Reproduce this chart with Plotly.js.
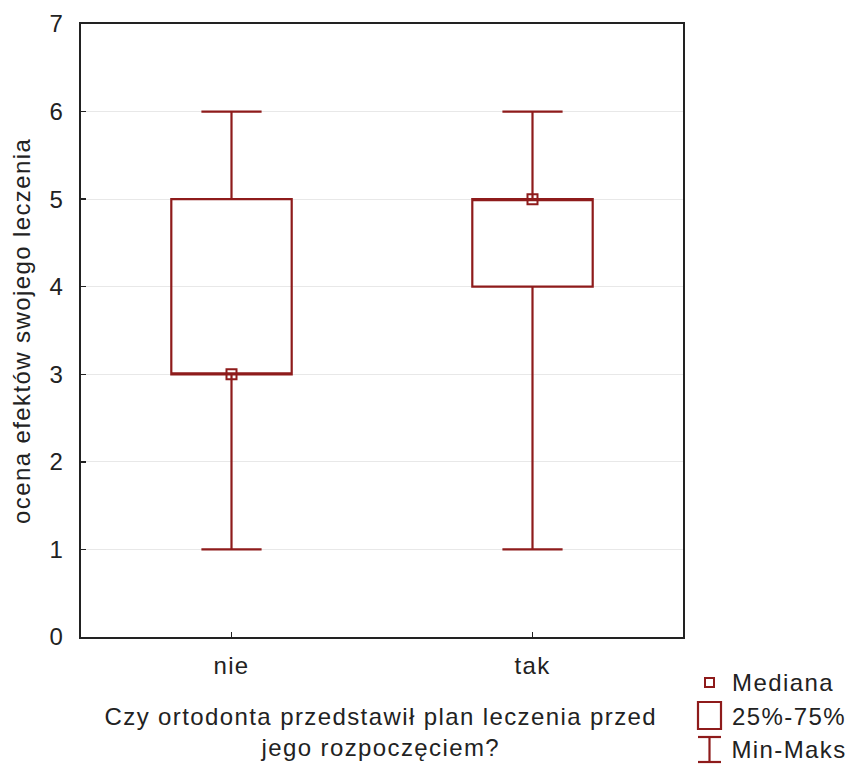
<!DOCTYPE html>
<html>
<head>
<meta charset="utf-8">
<script src="https://cdn.plot.ly/plotly-3.0.1.min.js"></script>
<style>
html,body{margin:0;padding:0;background:#fff;}
#chart text{letter-spacing:1.4px;}
</style>
</head>
<body>
<div id="chart" style="width:850px;height:765px;"></div>
<script>
// ---- data ----
const categories = ['nie', 'tak'];
const minVals = [1, 1];
const q1Vals = [3, 4];
const medianVals = [3, 5];
const q3Vals = [5, 5];
const maxVals = [6, 6];
const yTicks = [0, 1, 2, 3, 4, 5, 6, 7];
const xTitle = 'Czy ortodonta przedstawił plan leczenia przed<br>jego rozpoczęciem?';
const yTitle = 'ocena efektów swojego leczenia';
const legendLabels = ['Mediana', '25%-75%', 'Min-Maks'];

// ---- style ----
const RED = '#8e1b1b';
const FONT = 'Liberation Sans, Arial, sans-serif';
const FS = 24;
const W = 850, H = 765;
const M = {l: 81, r: 167, t: 24, b: 128};
const px = x => (x - M.l) / (W - M.l - M.r);
const py = y => (H - M.b - y) / (H - M.t - M.b);

const boxTrace = {
  type: 'box',
  x: categories,
  q1: q1Vals,
  median: medianVals,
  q3: q3Vals,
  lowerfence: minVals,
  upperfence: maxVals,
  boxpoints: false,
  width: 0.4,
  whiskerwidth: 0.5,
  fillcolor: 'rgba(255,255,255,0)',
  line: {color: RED, width: 2.2},
  showlegend: false,
  hoverinfo: 'skip'
};
const medTrace = {
  type: 'scatter',
  mode: 'markers',
  x: categories,
  y: medianVals,
  marker: {symbol: 'square-open', size: 10, color: RED, line: {color: RED, width: 2}},
  showlegend: false,
  hoverinfo: 'skip'
};

const ann = [];
const shapes = [];
// axis titles
ann.push({xref: 'paper', yref: 'paper', x: px(381), y: py(732), text: xTitle, showarrow: false,
  xanchor: 'center', yanchor: 'middle', font: {family: FONT, size: FS, color: '#222'}});
ann.push({xref: 'paper', yref: 'paper', x: px(21), y: py(331), text: yTitle, showarrow: false, textangle: -90,
  xanchor: 'center', yanchor: 'middle', font: {family: FONT, size: FS, color: '#222'}});
// legend
const legY = [683, 716, 749];
legendLabels.forEach((t, i) => {
  ann.push({xref: 'paper', yref: 'paper', x: px(735), y: py(legY[i]), text: t, showarrow: false,
    xanchor: 'left', yanchor: 'middle', font: {family: FONT, size: FS, color: '#222'}});
});
// legend icons
shapes.push({type: 'rect', xref: 'paper', yref: 'paper', x0: px(705), x1: px(714), y0: py(687), y1: py(678), line: {color: RED, width: 2}});
shapes.push({type: 'rect', xref: 'paper', yref: 'paper', x0: px(698), x1: px(721), y0: py(729), y1: py(702), line: {color: RED, width: 2.2}});
shapes.push({type: 'line', xref: 'paper', yref: 'paper', x0: px(698), x1: px(721), y0: py(737), y1: py(737), line: {color: RED, width: 2.2}});
shapes.push({type: 'line', xref: 'paper', yref: 'paper', x0: px(698), x1: px(721), y0: py(762), y1: py(762), line: {color: RED, width: 2.2}});
shapes.push({type: 'line', xref: 'paper', yref: 'paper', x0: px(709.5), x1: px(709.5), y0: py(737), y1: py(762), line: {color: RED, width: 2.2}});

const layout = {
  width: W, height: H,
  margin: M,
  paper_bgcolor: '#fff', plot_bgcolor: '#fff',
  showlegend: false,
  font: {family: FONT, size: FS, color: '#222'},
  xaxis: {
    type: 'category', range: [-0.5, 1.5],
    showline: true, linecolor: '#222', linewidth: 2, mirror: true,
    ticks: 'inside', ticklen: 5, tickwidth: 1.5, tickcolor: '#222',
    showgrid: false, zeroline: false, ticklabelstandoff: 6,
    tickfont: {family: FONT, size: FS, color: '#222'}
  },
  yaxis: {
    range: [0, 7], tickvals: yTicks, ticktext: yTicks.map(String),
    showline: true, linecolor: '#222', linewidth: 2, mirror: true,
    ticks: 'inside', ticklen: 5, tickwidth: 1.5, tickcolor: '#222',
    showgrid: true, gridcolor: '#e8e8e8', gridwidth: 1, zeroline: false,
    ticklabelstandoff: 10,
    tickfont: {family: FONT, size: FS, color: '#222'}
  },
  annotations: ann,
  shapes: shapes
};

Plotly.newPlot('chart', [boxTrace, medTrace], layout, {staticPlot: true, displayModeBar: false});
</script>
</body>
</html>
